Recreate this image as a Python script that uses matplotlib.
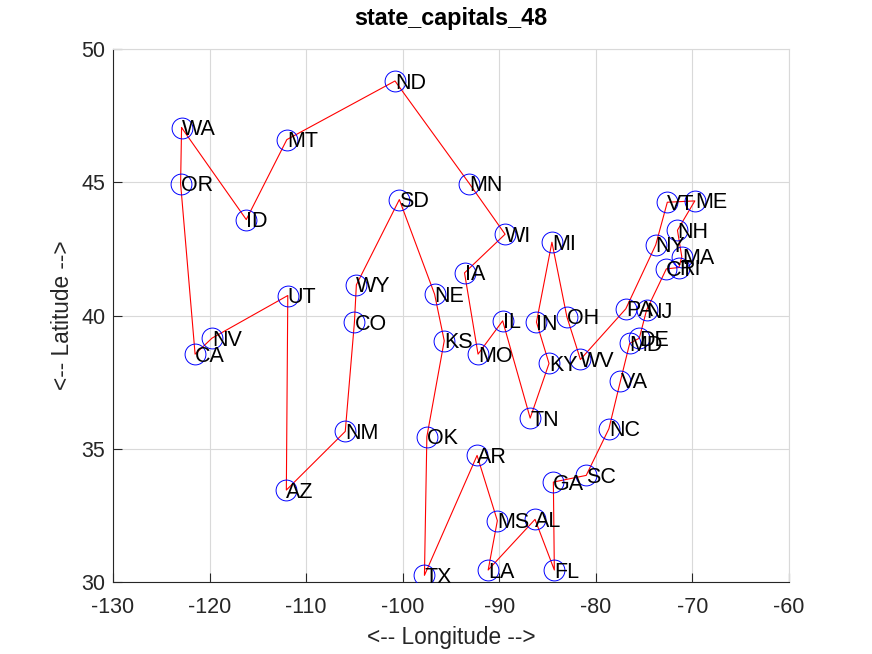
import matplotlib
matplotlib.use('Agg')
import matplotlib.pyplot as plt

states = ['WA', 'ID', 'MT', 'ND', 'MN', 'WI', 'IA', 'MO', 'IL', 'TN', 'KY', 'IN',
          'MI', 'OH', 'WV', 'PA', 'NY', 'VT', 'ME', 'NH', 'MA', 'RI', 'CT', 'NJ',
          'DE', 'MD', 'VA', 'NC', 'SC', 'GA', 'FL', 'AL', 'LA', 'MS', 'AR', 'TX',
          'OK', 'KS', 'NE', 'SD', 'WY', 'CO', 'NM', 'AZ', 'UT', 'NV', 'CA', 'OR']
lon = [-122.9, -116.2, -112.0, -100.8, -93.1, -89.4, -93.6, -92.2, -89.65, -86.8, -84.85, -86.15,
       -84.55, -83.0, -81.6, -76.9, -73.8, -72.6, -69.75, -71.55, -71.1, -71.4, -72.7, -74.75,
       -75.5, -76.5, -77.45, -78.65, -81.0, -84.4, -84.3, -86.3, -91.15, -90.2, -92.3, -97.75,
       -97.5, -95.7, -96.7, -100.35, -104.8, -105.0, -105.95, -112.05, -111.9, -119.75, -121.5, -123.0]
lat = [47.05, 43.6, 46.6, 48.8, 44.95, 43.05, 41.6, 38.55, 39.8, 36.15, 38.2, 39.75,
       42.75, 39.95, 38.35, 40.25, 42.65, 44.25, 44.3, 43.2, 42.2, 41.8, 41.75, 40.2,
       39.15, 38.95, 37.55, 35.75, 34.0, 33.75, 30.45, 32.35, 30.45, 32.3, 34.75, 30.25,
       35.45, 39.05, 40.8, 44.35, 41.15, 39.75, 35.65, 33.45, 40.75, 39.15, 38.55, 44.95]

plt.rcParams['font.family'] = ['Liberation Sans', 'DejaVu Sans']
plt.rcParams['font.size'] = 15
plt.rcParams['axes.unicode_minus'] = False

fig = plt.figure(figsize=(8.72, 6.54), dpi=100)
ax = fig.add_axes([113 / 872, 72 / 654, 676 / 872, 533 / 654])

# closed tour, back to the first state
ax.plot(lon + lon[:1], lat + lat[:1], color='red', lw=0.8, zorder=3)
ax.plot(lon, lat, 'o', mfc='none', mec='blue', mew=0.7, ms=15, zorder=4)
for s, x, y in zip(states, lon, lat):
    ax.annotate(s, (x, y), xytext=(0, -1.5), textcoords='offset points', color='black',
                fontsize=15.5, ha='left', va='center', zorder=5)

ax.set_xlim(-130, -60)
ax.set_ylim(30, 50)
ax.set_xticks(range(-130, -50, 10))
ax.set_yticks(range(30, 55, 5))
ax.grid(True, color='#d9d9d9', lw=0.8)
ax.set_axisbelow(True)
ax.tick_params(direction='in', length=6.5, width=0.8, color='#262626', labelcolor='#262626',
               labelsize=15.5)
ax.tick_params(axis='x', pad=11)
ax.tick_params(axis='y', pad=5.5)
ax.spines['top'].set_color('#d9d9d9')
ax.spines['right'].set_color('#d9d9d9')
ax.spines['left'].set_color('#262626')
ax.spines['bottom'].set_color('#262626')

ax.set_xlabel('<-- Longitude -->', fontsize=16.3, color='#262626', labelpad=5.5)
ax.set_ylabel('<-- Latitude -->', fontsize=16.3, color='#262626', labelpad=5.5)
ax.set_title('state_capitals_48', fontsize=16.8, fontweight='bold', pad=17.5)

fig.savefig('out.png', dpi=100)
